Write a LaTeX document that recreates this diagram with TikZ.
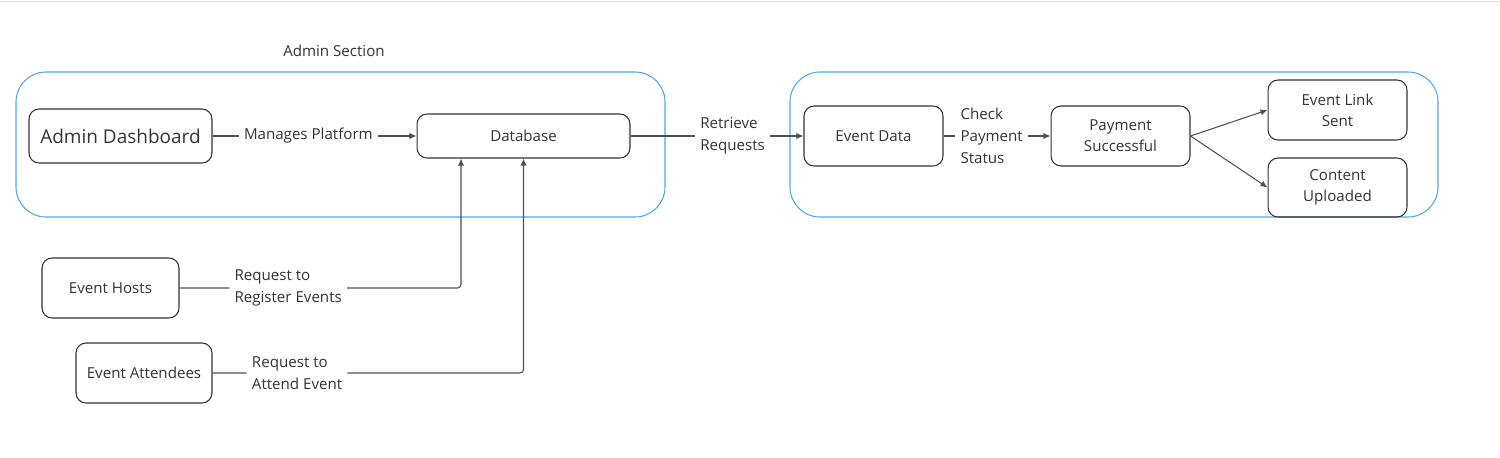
\documentclass[tikz,border=0pt]{standalone}
\usepackage{fontspec}
\setmainfont{Open Sans}
\usetikzlibrary{arrows.meta}
\definecolor{frameblue}{RGB}{82,166,235}
\definecolor{boxline}{RGB}{51,51,51}
\definecolor{wire}{RGB}{80,80,80}

\begin{document}
\begin{tikzpicture}[x=0.02cm,y=-0.02cm,
  box/.style={draw=boxline,line width=0.6pt,rounded corners=0.2cm,align=center,inner sep=0pt,text=boxline,font=\fontsize{8.6}{12}\selectfont},
  lbl/.style={fill=white,align=left,inner sep=3pt,text=boxline,font=\fontsize{8.6}{12.4}\selectfont},
  flow/.style={draw=wire,line width=0.6pt,-{Latex[length=4pt,width=3.5pt]}},
  frame/.style={draw=frameblue,line width=0.6pt,rounded corners=0.6cm}]
			%%%%% START %%%%%
			\useasboundingbox (0,0) rectangle (1500,457);
			\draw[black!12] (0,1) -- (1500,1);
			
			% containers
			\draw[frame] (16,72) rectangle (665,217);
			\node[text=boxline,font=\fontsize{8.6}{12}\selectfont] (admintitle) at (334,51) {Admin Section};
			\draw[frame] (790,72) rectangle (1438,217);
			
			% admin side
			\node[box,minimum width=3.66cm,minimum height=1.08cm,font=\fontsize{10.8}{13}\selectfont] (dash) at (120.5,136) {Admin Dashboard};
			\node[box,minimum width=4.26cm,minimum height=0.88cm] (db) at (523.5,136) {Database};
			
			% event side
			\node[box,minimum width=2.78cm,minimum height=1.2cm] (evdata) at (873.5,136) {Event Data};
			\node[box,minimum width=2.78cm,minimum height=1.2cm] (paid) at (1120.5,136) {Payment\\Successful};
			\node[box,minimum width=2.78cm,minimum height=1.2cm] (link) at (1337.5,110) {Event Link\\Sent};
			\node[box,minimum width=2.78cm,minimum height=1.18cm] (content) at (1337.5,187.5) {Content\\Uploaded};
			
			% users
			\node[box,minimum width=2.74cm,minimum height=1.2cm] (hosts) at (110.5,288) {Event Hosts};
			\node[box,minimum width=2.72cm,minimum height=1.2cm] (attend) at (144,373) {Event Attendees};
			
			% connectors
			\draw[flow] (dash) -- node[lbl,pos=0.47] {Manages Platform} (db);
			\draw[flow] (db) -- node[lbl,pos=0.59] {Retrieve\\Requests} (evdata);
			\draw[flow] (evdata) -- node[lbl,pos=0.45] {Check\\Payment\\Status} (paid);
			\draw[flow] (paid.east) -- (link.west);
			\draw[flow] (paid.east) -- (content.west);
			\draw[flow,rounded corners=2pt] (hosts.east) -| node[lbl,pos=0.193] {Request to\\Register Events} ([xshift=-1.25cm]db.south);
			\draw[flow,rounded corners=2pt] (attend.east) -| node[lbl,pos=0.136] {Request to\\Attend Event} (db.south);
			%%%%% END %%%%%
		\end{tikzpicture}
\end{document}
